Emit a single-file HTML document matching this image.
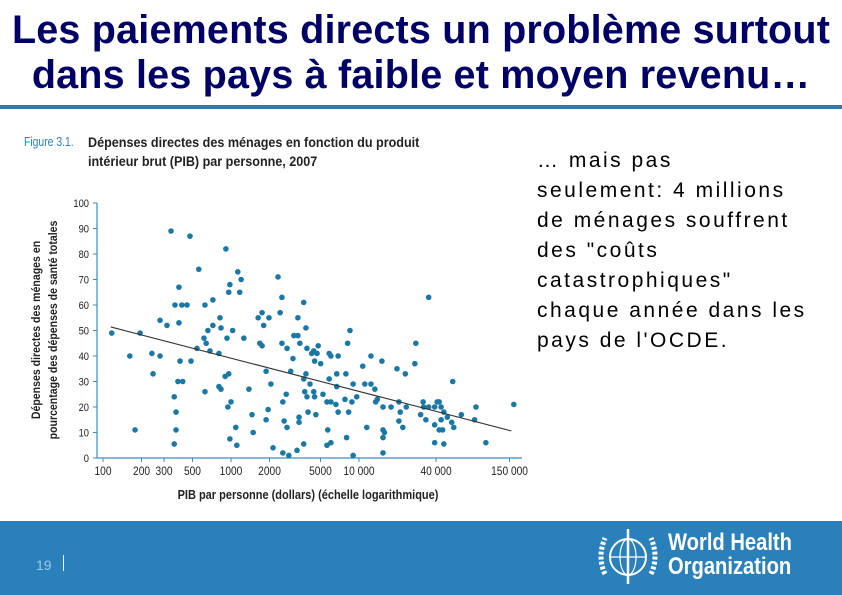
<!DOCTYPE html>
<html><head><meta charset="utf-8"><style>
body{margin:0;width:842px;height:595px;overflow:hidden;background:#fff;font-family:"Liberation Sans",sans-serif;position:relative}
#title{position:absolute;left:0;top:8px;width:842px;text-align:center;color:#000066;font-weight:bold;font-size:39.5px;line-height:45px;letter-spacing:0.2px;white-space:nowrap}
#rule{position:absolute;left:0;top:105px;width:842px;height:4px;background:#2e7bb0}
#side{position:absolute;left:537px;top:146px;width:305px;font-size:21px;line-height:30px;color:#000;letter-spacing:2.5px;white-space:nowrap}
#footer{position:absolute;left:0;top:521px;width:842px;height:74px;background:#2a80bb}
#pg{position:absolute;left:36px;top:557px;color:#9cc8e8;font-size:14px}
#pgbar{position:absolute;left:63px;top:555px;width:1px;height:16px;background:#fff}
#who{position:absolute;left:668px;top:531px;color:#fff;font-size:24px;line-height:24px;font-weight:bold;transform:scaleX(0.84);transform-origin:left top}
</style></head><body>
<div id="title">Les paiements directs un problème surtout<br>dans les pays à faible et moyen revenu…</div>
<div id="rule"></div>
<div id="side">… mais pas<br>seulement: 4 millions<br>de ménages souffrent<br>des "coûts<br>catastrophiques"<br>chaque année dans les<br>pays de l'OCDE.</div>
<svg id="chart" width="842" height="520" style="position:absolute;left:0;top:0"></svg>
<div id="footer"></div>
<div id="pg">19</div>
<div id="pgbar"></div>
<svg width="70" height="66" style="position:absolute;left:593px;top:524px">
<circle cx="35" cy="33" r="18" fill="none" stroke="#fff" stroke-width="2"/>
<ellipse cx="35" cy="33" rx="8" ry="18" fill="none" stroke="#fff" stroke-width="1.2"/>
<line x1="17" y1="33" x2="53" y2="33" stroke="#fff" stroke-width="1.2"/>
<path d="M12 50 Q4 33 12 14 M58 50 Q66 33 58 14" fill="none" stroke="#fff" stroke-width="5" stroke-dasharray="3 2"/>
<line x1="35" y1="5" x2="35" y2="60" stroke="#fff" stroke-width="2.5"/>
</svg>
<div id="who">World Health<br>Organization</div>
<script>
const gdp=[117,162,178,195,241,246,279,279,316,340,360,372,372,360,365,392,392,400,385,420,413,453,478,487,542,560,626,626,615,640,660,685,722,722,805,835,820,835,805,912,930,980,960,945,1000,900,960,1030,980,1090,1110,1130,1200,1170,1260,1380,1460,1490,1630,1680,1750,1750,1800,1880,1880,1950,1980,2050,2130,2330,2420,2500,2500,2540,2600,2540,2740,2700,2740,2830,2930,3050,3100,3330,3330,3450,3400,3400,3280,3700,3700,3850,3850,3770,3920,4000,3700,3920,4140,4270,4430,4500,4800,4700,4430,4500,4600,5020,5230,5620,5700,5620,5850,5850,6030,6030,6030,6600,6870,6700,6700,6870,7770,7900,8000,8150,8300,8500,8800,9000,9000,9600,10700,11100,11500,12400,12400,13300,13500,13900,15100,15400,15400,15400,15400,15800,17800,19800,20500,21000,20500,22000,23000,23400,27300,27800,30300,31700,32000,33300,35000,35000,39000,39000,39000,40800,42300,42300,43800,43800,45000,46000,46000,49000,53000,54000,55000,63000,80000,82000,98000,162000];
const share=[49,40,11,49,41,33,54,40,52,89,24,18,11,5.5,60,67,53,38,30,30,60,60,87,38,43,74,26,60,47,45,50,42,52,62,28,27,55,51,41,82,47,68,65,20,22,32,33,50,7.5,12,5,73,70,65,47,27,17,10,55,45,57,44,52,34,15,19,55,29,4,71,57,63,45,22,14.5,2,43,25,12,1,34,39,48,48,55,45,16,14,3,31,61,51,33,26,24,18,5.5,43,29,41,42,38,44,41,26,24,17,37,25,22,11,5,41,31,40,22,6,21,40,33,28,18,23,33,8,45,18,50,22,29,1,24,36,29,12,29,40,27,22,23,38,20,11,8,2,10,20,35,22,18,14.5,12,33,20,37,45,17,22,20,15,63,20,20,13,6,22,11,22,20,15,11,5.5,18,16,14,30,12,17,15,20,6,21];
const trendX=[115,155000];
const trendY=[51.4,10.6];
const xTicks=[100,200,300,500,1000,2000,5000,10000,40000,150000];
const xTickLabels=["100","200","300","500","1000","2000","5000","10 000","40 000","150 000"];
const yTicks=[0,10,20,30,40,50,60,70,80,90,100];
const NS="http://www.w3.org/2000/svg";
const svg=document.getElementById('chart');
const X=v=>103+(Math.log10(v)-2)*128;
const Y=v=>458-v*2.55;
const ax="#3a8cc0";
function mk(t,a,p){const e=document.createElementNS(NS,t);for(const k in a)e.setAttribute(k,a[k]);(p||svg).appendChild(e);return e;}
let e;
e=mk('text',{x:24/0.8,y:146,'font-size':13,fill:'#2a80bb',transform:'scale(0.8,1)'});e.textContent='Figure 3.1.';


e=mk('text',{x:88/0.9,y:147,'font-size':14,'font-weight':'bold',fill:'#222',transform:'scale(0.9,1)'});e.textContent='Dépenses directes des ménages en fonction du produit';


e=mk('text',{x:88/0.9,y:166,'font-size':14,'font-weight':'bold',fill:'#222',transform:'scale(0.9,1)'});e.textContent='intérieur brut (PIB) par personne, 2007';


e=mk('line',{x1:97,y1:203,x2:97,y2:458,stroke:ax,'stroke-width':1.2});


e=mk('line',{x1:97,y1:458,x2:522,y2:458,stroke:ax,'stroke-width':1.2});


yTicks.forEach(t=>{
 e=mk('line',{x1:93,x2:97,y1:Y(t),y2:Y(t),stroke:ax});
 
 
 e=mk('text',{x:89,y:Y(t)+4,'font-size':11,'text-anchor':'end',fill:'#222',transform:`translate(${89*0.15},0) scale(0.85,1)`});e.textContent=t;
 
 
});
xTicks.forEach((t,i)=>{
 e=mk('line',{x1:X(t),x2:X(t),y1:458,y2:462,stroke:ax});
 
 
 e=mk('text',{x:X(t)/0.85,y:475,'font-size':12,'text-anchor':'middle',fill:'#222',transform:'scale(0.85,1)'});e.textContent=xTickLabels[i];
 
 
});
e=mk('text',{x:308/0.88,y:499,'font-size':12.5,'font-weight':'bold','text-anchor':'middle',fill:'#222',transform:'scale(0.88,1)'});e.textContent='PIB par personne (dollars) (échelle logarithmique)';


e=mk('text',{x:-330/0.88,y:40,'font-size':12,'font-weight':'bold','text-anchor':'middle',fill:'#222',transform:'rotate(-90) scale(0.88,1)'});e.textContent='Dépenses directes des ménages en';


e=mk('text',{x:-330/0.88,y:57,'font-size':12,'font-weight':'bold','text-anchor':'middle',fill:'#222',transform:'rotate(-90) scale(0.88,1)'});e.textContent='pourcentage des dépenses de santé totales';


gdp.forEach((g,i)=>{
 e=mk('circle',{cx:X(g),cy:Y(share[i]),r:2.8,fill:'#1a78a6'});
 
 
});
e=mk('line',{x1:X(trendX[0]),y1:Y(trendY[0]),x2:X(trendX[1]),y2:Y(trendY[1]),stroke:'#333','stroke-width':1.1});


</script>
</body></html>
